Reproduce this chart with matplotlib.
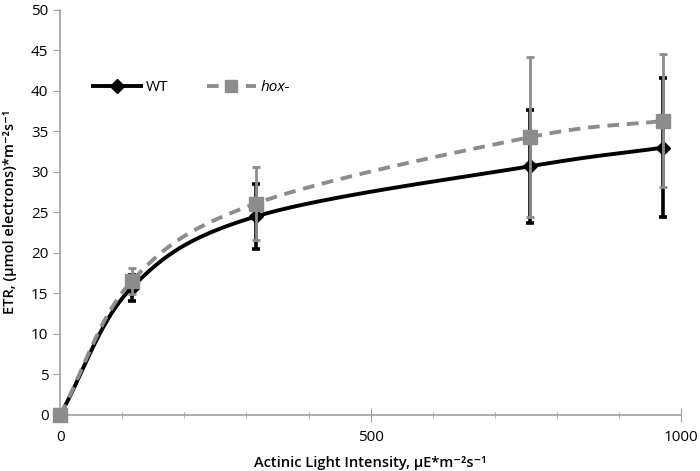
import numpy as np
import matplotlib
matplotlib.use("Agg")
import matplotlib.pyplot as plt
from matplotlib.ticker import MultipleLocator

plt.rcParams['font.family'] = ['Open Sans', 'DejaVu Sans']

# data
light = [0, 115, 315, 757, 971]
wt = [0, 15.7, 24.5, 30.7, 33.0]
wt_err = [0, 1.6, 4.0, 7.0, 8.6]
hox = [0, 16.5, 26.1, 34.3, 36.3]
hox_err = [0, 1.6, 4.5, 9.9, 8.2]


# smooth line through the points, like a spreadsheet "smoothed line"
def smooth(xs, ys, n=40):
    xs = np.asarray(xs, float)
    ys = np.asarray(ys, float)
    px = np.concatenate([[2 * xs[0] - xs[1]], xs, [2 * xs[-1] - xs[-2]]])
    py = np.concatenate([[2 * ys[0] - ys[1]], ys, [2 * ys[-1] - ys[-2]]])
    outx, outy = [], []
    t = np.linspace(0, 1, n)
    for i in range(1, len(px) - 2):
        for p, out in ((px, outx), (py, outy)):
            p0, p1, p2, p3 = p[i - 1], p[i], p[i + 1], p[i + 2]
            # bezier with control points 1/6 of neighbour span
            c1 = p1 + (p2 - p0) / 6
            c2 = p2 - (p3 - p1) / 6
            out.extend((1 - t) ** 3 * p1 + 3 * (1 - t) ** 2 * t * c1
                       + 3 * (1 - t) * t ** 2 * c2 + t ** 3 * p2)
    return outx, outy


fig = plt.figure(figsize=(7, 4.71), dpi=100)
ax = fig.add_axes([0.086, 0.119, 0.887, 0.86])

gray = '#8c8c8c'

# WT
sx, sy = smooth(light, wt)
ax.plot(sx, sy, color='black', lw=2.8, zorder=3)
ax.errorbar(light, wt, yerr=wt_err, fmt='none', ecolor='black',
            elinewidth=2.6, capsize=3, capthick=2.6, zorder=2)
ax.plot(light, wt, 'D', color='black', ms=7, zorder=4, clip_on=False)
ax.plot([], [], color='black', lw=2.8, marker='D', ms=7, label='WT')

# hox-
sx, sy = smooth(light, hox)
ax.plot(sx, sy, color=gray, lw=2.8, ls=(0, (3, 2)), zorder=5)
ax.errorbar(light, hox, yerr=hox_err, fmt='none', ecolor=gray,
            elinewidth=2.0, capsize=3, capthick=2.0, zorder=6)
ax.plot(light, hox, 's', color=gray, ms=10, zorder=7, clip_on=False)
ax.plot([], [], color=gray, lw=2.8, ls=(0, (3, 2)), marker='s', ms=8,
        label='hox-')

ax.set_xlim(0, 1000)
ax.set_ylim(0, 50)
ax.xaxis.set_major_locator(MultipleLocator(500))
ax.xaxis.set_minor_locator(MultipleLocator(100))
ax.yaxis.set_major_locator(MultipleLocator(5))

for s in ['top', 'right']:
    ax.spines[s].set_visible(False)
for s in ['left', 'bottom']:
    ax.spines[s].set_color('#a0a0a0')
    ax.spines[s].set_linewidth(1.2)
ax.tick_params(axis='x', which='major', direction='inout', length=10,
               color='#a0a0a0', labelsize=11, pad=6)
ax.tick_params(axis='x', which='minor', direction='inout', length=5,
               color='#a0a0a0')
ax.tick_params(axis='y', direction='out', length=5, color='#a0a0a0',
               labelsize=11)

ax.set_xlabel('Actinic Light Intensity, µE*m⁻²s⁻¹', fontsize=10.5,
              fontweight='semibold', labelpad=8)
ax.set_ylabel('ETR, (µmol electrons)*m⁻²s⁻¹', fontsize=10.5,
              fontweight='semibold', labelpad=10)

leg = ax.legend(loc='upper left', bbox_to_anchor=(0.03, 0.86), ncol=2,
                frameon=False, fontsize=11, handlelength=3.2,
                columnspacing=2.5, handletextpad=0.3)
leg.get_texts()[1].set_style('italic')

fig.savefig('out.png', dpi=100)
